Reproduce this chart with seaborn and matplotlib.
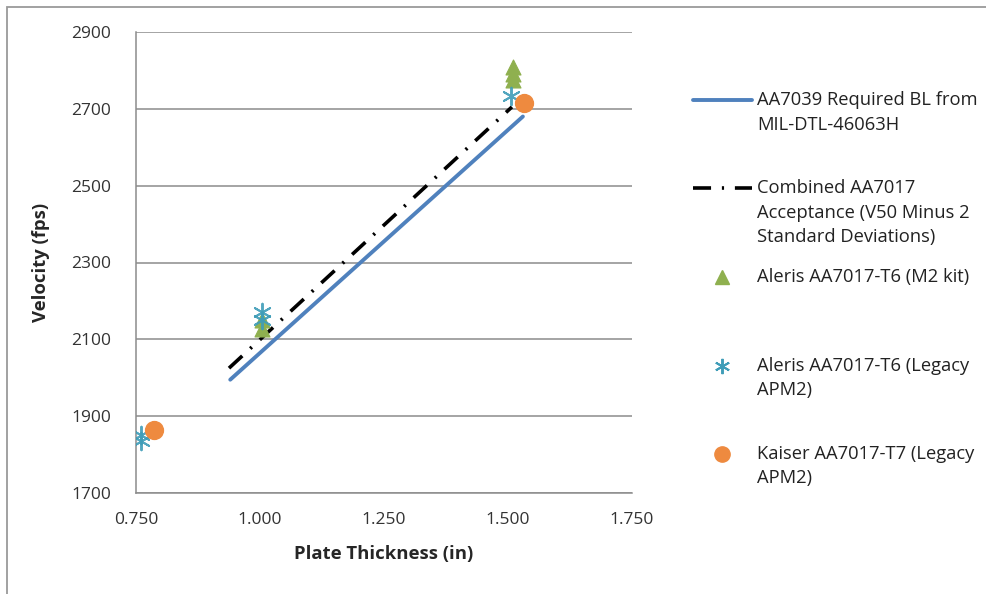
import matplotlib
matplotlib.use("Agg")
import matplotlib.pyplot as plt
import seaborn as sns
from matplotlib.lines import Line2D
from matplotlib.patches import Rectangle

# required ballistic limit line and combined acceptance line
bl_x = [0.94, 1.53]
bl_y = [1995, 2680]
acc_x = [0.9375, 1.508]
acc_y = [2025, 2705]

# test results
m2_x = [1.004, 1.004, 1.51, 1.51, 1.51]
m2_y = [2150, 2128, 2810, 2790, 2775]
apm_x = [0.76, 0.76, 1.004, 1.004, 1.507]
apm_y = [1835, 1850, 2170, 2150, 2733]
kai_x = [0.786, 1.532]
kai_y = [1865, 2715]

labels = ["AA7039 Required BL from\nMIL-DTL-46063H",
          "Combined AA7017\nAcceptance (V50 Minus 2\nStandard Deviations)",
          "Aleris AA7017-T6 (M2 kit)",
          "Aleris AA7017-T6 (Legacy\nAPM2)",
          "Kaiser AA7017-T7 (Legacy\nAPM2)"]

x_ticks = [0.75, 1.0, 1.25, 1.5, 1.75]
y_ticks = [1700, 1900, 2100, 2300, 2500, 2700, 2900]

blue = "#4F81BD"
green = "#8FB04F"
aqua = "#3F9DB8"
orange = "#EE8A3F"
asterisk = (6, 2, 0)
dashdot = (0, (5, 3, 0.6, 3))

sns.set_style("white")
plt.rcParams['font.family'] = ['Open Sans', 'DejaVu Sans']

W, H = 987, 594
fig = plt.figure(figsize=(W / 100, H / 100), dpi=100)
ax = fig.add_axes([136 / W, 1 - 493 / H, (632 - 136) / W, (493 - 32) / H])

sns.lineplot(x=bl_x, y=bl_y, ax=ax, color=blue, lw=2.8, zorder=3)
sns.lineplot(x=acc_x, y=acc_y, ax=ax, color="black", lw=2.6,
             linestyle=dashdot, zorder=3)
sns.scatterplot(x=m2_x, y=m2_y, ax=ax, marker="^", s=115, color=green,
                edgecolor=green, zorder=4)
sns.scatterplot(x=apm_x, y=apm_y, ax=ax, marker=asterisk, s=160, color=aqua,
                linewidth=1.4, alpha=0.9, zorder=5)
sns.scatterplot(x=kai_x, y=kai_y, ax=ax, marker="o", s=165, color=orange,
                edgecolor=orange, zorder=6)

ax.set_xlim(0.75, 1.75)
ax.set_ylim(1700, 2900)
ax.set_xticks(x_ticks)
ax.set_xticklabels([f"{v:.3f}" for v in x_ticks])
ax.set_yticks(y_ticks)
ax.tick_params(length=0, labelsize=12.5, colors="#333333")
ax.tick_params(axis="y", pad=18)
ax.tick_params(axis="x", pad=14)
ax.yaxis.grid(True, color="#8c8c8c", lw=1.1)
for side in ["top", "right"]:
    ax.spines[side].set_visible(False)
for side in ["left", "bottom"]:
    ax.spines[side].set_color("#8c8c8c")
    ax.spines[side].set_linewidth(1.1)
ax.set_xlabel("Plate Thickness (in)", fontsize=13.3, fontweight="bold", labelpad=12)
ax.set_ylabel("Velocity (fps)", fontsize=13.3, fontweight="bold", labelpad=15)

# legend laid out like the Excel original
handle_y = [100, 188, 277, 366, 454]
styles = [dict(color=blue, lw=2.8),
          dict(color="black", lw=2.6, linestyle=dashdot),
          dict(marker="^", color=green, markersize=10, linestyle="none"),
          dict(marker=asterisk, color=aqua, markersize=11, mew=1.4, linestyle="none"),
          dict(marker="o", color=orange, markersize=11, linestyle="none")]
for hy, st, lab in zip(handle_y, styles, labels):
    yy = 1 - hy / H
    if st.get("linestyle") == "none":
        fig.add_artist(Line2D([722 / W], [yy], transform=fig.transFigure, **st))
    else:
        fig.add_artist(Line2D([693 / W, 752 / W], [yy, yy], transform=fig.transFigure, **st))
    for k, line in enumerate(lab.split("\n")):
        fig.text(757 / W, 1 - (hy + 24.5 * k) / H, line, fontsize=13.2,
                 va="center", ha="left", color="#222222")

# chart area border
fig.add_artist(Rectangle((7 / W, -0.1), 1.2, 1.1 - 6.5 / H, transform=fig.transFigure,
                         fill=False, edgecolor="#9a9a9a", lw=1.3))

fig.savefig("out.png", dpi=100)
